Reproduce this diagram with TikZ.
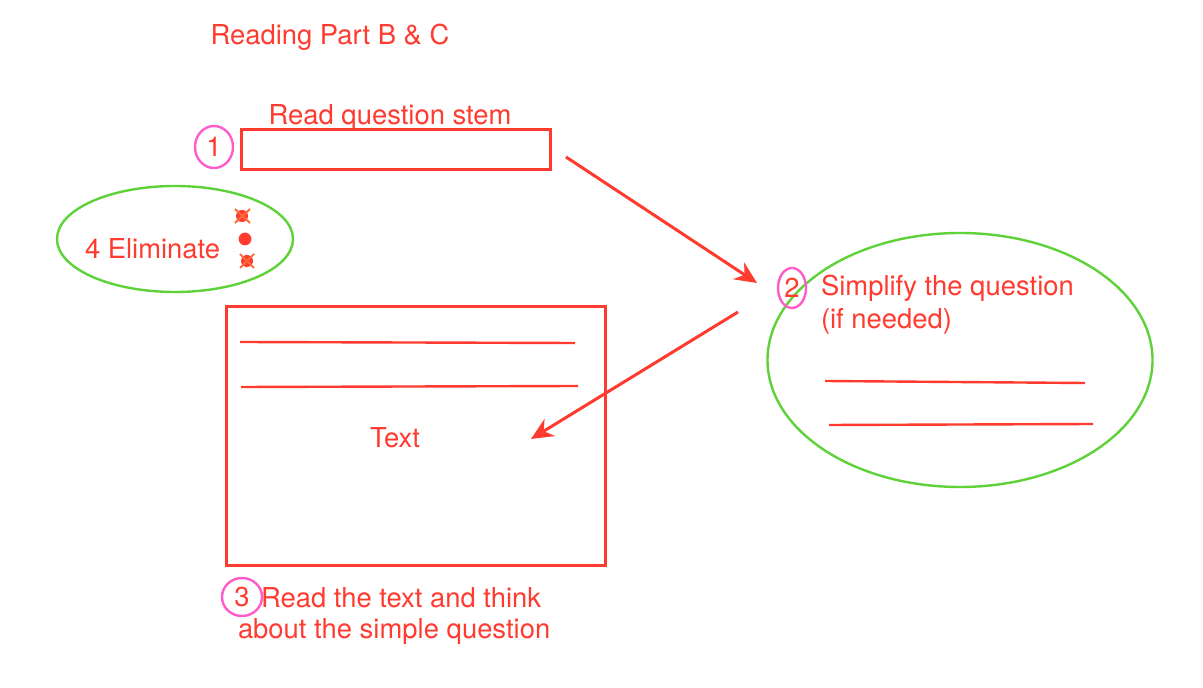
\documentclass[tikz,border=0pt]{standalone}
\usepackage{fontspec}
\setmainfont{TeX Gyre Heros}
\usetikzlibrary{shapes.geometric,arrows.meta}
\definecolor{penred}{HTML}{FF3B30}
\definecolor{pengreen}{HTML}{5FD23A}
\definecolor{penpink}{HTML}{FF5CCB}
\definecolor{xorange}{HTML}{FF6A3D}
\begin{document}
\begin{tikzpicture}[x=0.5pt,y=-0.5pt,
    every node/.style={inner sep=0pt,outer sep=0pt,text=penred,font=\fontsize{13.7}{16}\selectfont},
    label/.style={anchor=west},
    redbox/.style={draw=penred,line width=1.5pt,rectangle},
    ring/.style={draw=penpink,line width=1.2pt,ellipse},
    bubble/.style={draw=pengreen,line width=1.2pt,ellipse},
    penline/.style={draw=penred,line width=1.2pt},
    flow/.style={draw=penred,line width=1.5pt,-{Stealth[length=11pt,width=10pt]}}]
    \useasboundingbox[fill=white] (0,0) rectangle (1203,688);
    % title
    \node (title) at (330,37) {Reading Part B \& C};
    % step 1
    \node (stemlabel) at (390,118) {Read question stem};
    \node[redbox,minimum width=154.5pt,minimum height=20pt] (stem) at (395.5,150) {};
    \node[ring,minimum width=19pt,minimum height=21pt] (one) at (214,147) {1};
    % step 4
    \node[bubble,minimum width=118pt,minimum height=53pt] (elim) at (175,239) {};
    \node[label] (elimtext) at (85,249) {4 Eliminate};
    \fill[penred] (242,216) circle (3pt) (245,239) circle (3.2pt) (247,261) circle (3pt);
    \draw[xorange,line width=1pt] (235,209) -- (250,223) (235,223) -- (250,209)
        (240,254) -- (254,268) (240,268) -- (254,254);
    % text box
    \node[redbox,minimum width=189.5pt,minimum height=129.5pt] (textbox) at (415.5,436.5) {};
    \node (textword) at (395,438) {Text};
    \coordinate (l1a) at (240,342); \coordinate (l1b) at (575,343);
    \coordinate (l2a) at (241,387); \coordinate (l2b) at (578,386);
    \draw[penline] (l1a) -- (l1b);
    \draw[penline] (l2a) -- (l2b);
    % step 2
    \node[bubble,minimum width=192.5pt,minimum height=127pt] (simple) at (960,360) {};
    \node[ring,minimum width=14pt,minimum height=20pt] (two) at (792,288) {2};
    \node[label] (simptext) at (821,288) {Simplify the question};
    \node[label] (needed) at (821,321) {(if needed)};
    \coordinate (s1a) at (825,381); \coordinate (s1b) at (1085,383);
    \coordinate (s2a) at (829,425); \coordinate (s2b) at (1093,424);
    \draw[penline] (s1a) -- (s1b);
    \draw[penline] (s2a) -- (s2b);
    % step 3
    \node[ring,minimum width=20pt,minimum height=19pt] (three) at (242,597) {3};
    \node[label] (readtext) at (261,598) {Read the text and think};
    \node[label] (about) at (238,631) {about the simple question};
    % arrows
    \coordinate (go1) at (566,157); \coordinate (to2) at (757,283);
    \coordinate (go2) at (738,312); \coordinate (to3) at (531,439);
    \draw[flow] (go1) -- (to2);
    \draw[flow] (go2) -- (to3);
\end{tikzpicture}
\end{document}
